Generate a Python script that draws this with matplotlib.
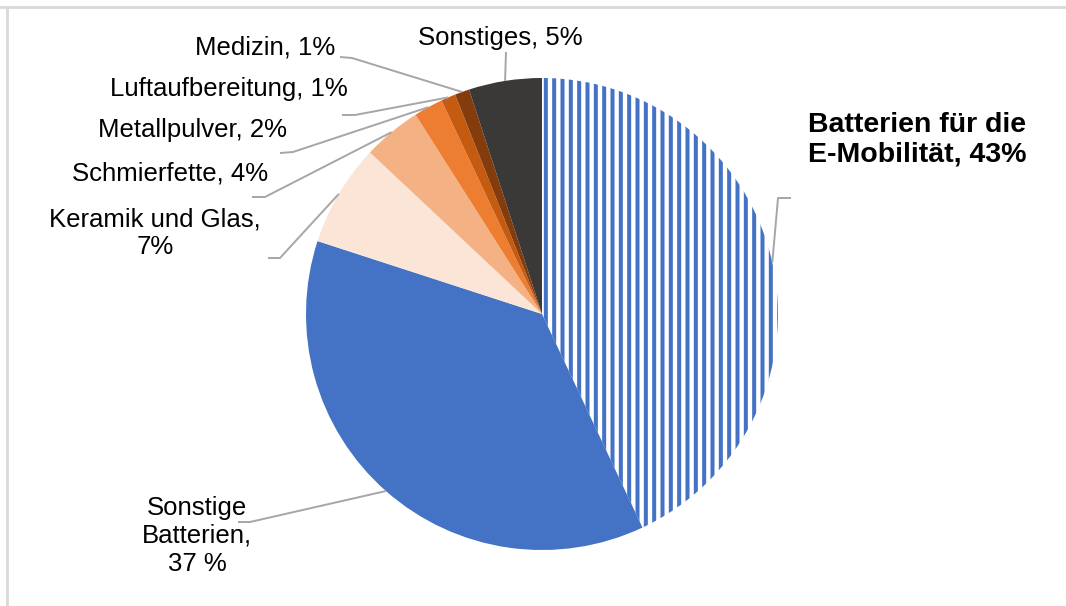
"""
plot.py - Anwendungen von Lithium / Batterien, Kreisdiagramm
"""

import numpy as np
import matplotlib
matplotlib.use("Agg")
import matplotlib.pyplot as plt

plt.rcParams['font.family'] = ['Liberation Sans', 'DejaVu Sans']
plt.rcParams['hatch.linewidth'] = 2.9

# Daten (im Uhrzeigersinn ab 12 Uhr)
categories = ["Batterien für die\nE-Mobilität, 43%", "Sonstige\nBatterien,\n37 %",
              "Keramik und Glas,\n7%", "Schmierfette, 4%", "Metallpulver, 2%",
              "Luftaufbereitung, 1%", "Medizin, 1%", "Sonstiges, 5%"]
shares = [43, 37, 7, 4, 2, 1, 1, 5]
colors = ['white', '#4472C4', '#FBE5D6', '#F4B183', '#ED7D31', '#C55A11', '#843C0C', '#3B3838']

W, H = 1066, 606
CX, CY, R = 542, 314, 236


def px(x, y):
    # Pixelkoordinaten (y nach unten) -> Datenkoordinaten
    return x, H - y


fig = plt.figure(figsize=(W / 100, H / 100), dpi=100)
ax = fig.add_axes([0, 0, 1, 1])
ax.set_xlim(0, W)
ax.set_ylim(0, H)
ax.set_aspect('equal')
ax.axis('off')

wedges, _ = ax.pie(shares, colors=colors, startangle=90, counterclock=False,
                   center=px(CX, CY), radius=R, frame=True,
                   wedgeprops=dict(linewidth=0))
ax.set_xlim(0, W)
ax.set_ylim(0, H)
ax.axis('off')

# schraffiertes Segment: blaue senkrechte Streifen
wedges[0].set_hatch('||')
wedges[0].set_edgecolor('#4472C4')
wedges[0].set_linewidth(0)

# Beschriftungen: (Text-Position, Ausrichtung, Knickpunkte der Linie)
label_layout = [
    dict(xy=(917, 140), ha='center', bold=True, size=20.5, path=[(791, 198), (778, 198)]),
    dict(xy=(197, 536), ha='center', bold=False, size=18.5, path=[(238, 522), (250, 522)]),
    dict(xy=(155, 233), ha='center', bold=False, size=18.5, path=[(268, 258), (280, 258)]),
    dict(xy=(268, 173), ha='right', bold=False, size=18.5, path=[(252, 197), (265, 197)]),
    dict(xy=(287, 130), ha='right', bold=False, size=18.5, path=[(280, 153), (293, 152)]),
    dict(xy=(348, 89), ha='right', bold=False, size=18.5, path=[(342, 115), (355, 115)]),
    dict(xy=(335, 48), ha='right', bold=False, size=18.5, path=[(340, 57), (352, 58)]),
    dict(xy=(500, 38), ha='center', bold=False, size=18.5, path=[(506, 52)]),
]

for wedge, label, lay in zip(wedges, categories, label_layout):
    # Mittelpunkt des Segments auf dem Rand
    mid = np.deg2rad((wedge.theta1 + wedge.theta2) / 2)
    ex = wedge.center[0] + R * np.cos(mid)
    ey = wedge.center[1] + R * np.sin(mid)
    pts = [px(x, y) for x, y in lay['path']] + [(ex, ey)]
    xs, ys = zip(*pts)
    ax.plot(xs, ys, color='#A6A6A6', linewidth=1.4, solid_capstyle='butt', zorder=1)

    tx, ty = px(*lay['xy'])
    ax.text(tx, ty, label, ha=lay['ha'], va='center', multialignment='center',
            fontsize=lay['size'], fontweight='bold' if lay['bold'] else 'normal',
            color='black', linespacing=1.2)

# Rahmen oben und links
ax.plot([0, W], [H - 7, H - 7], color='#D9D9D9', linewidth=2)
ax.plot([7, 7], [0, H - 7], color='#D9D9D9', linewidth=2)

fig.savefig('out.png', dpi=100)
plt.close(fig)
